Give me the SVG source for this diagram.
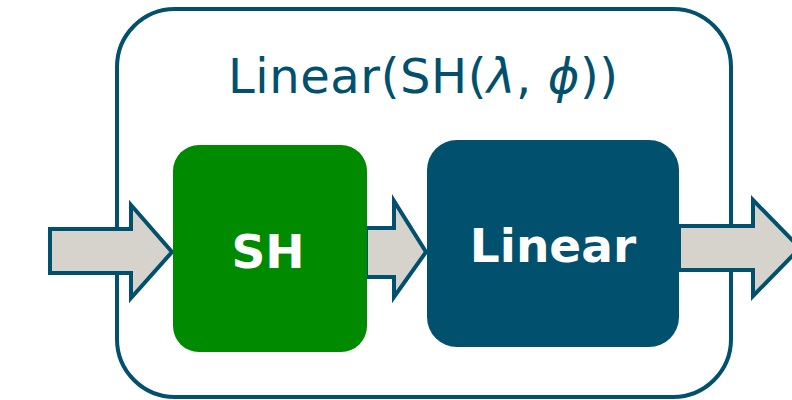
<svg xmlns="http://www.w3.org/2000/svg" width="792" height="400" viewBox="0 0 792 400">
<style>
.arrow{fill:#d6d3cc;stroke:#00506e;stroke-width:4;stroke-linejoin:miter}
.title{font-family:"DejaVu Sans",Verdana,sans-serif;font-size:48px;fill:#00506e}
.lbl{font-family:"DejaVu Sans",Verdana,sans-serif;font-weight:bold;font-size:47px;fill:#ffffff}
</style>
<rect x="0" y="0" width="792" height="400" fill="#ffffff"/>
<g id="outer">
<rect x="117" y="9" width="614" height="388" rx="58" ry="58" fill="none" stroke="#00506e" stroke-width="4"/>
<text class="title" x="423" y="93" text-anchor="middle" textLength="390" lengthAdjust="spacing">Linear(SH(<tspan font-style="italic">λ</tspan>, <tspan font-style="italic">ϕ</tspan>))</text>
</g>
<g id="connectors">
<polygon class="arrow" points="50,229 131,229 131,205 172,252 131,298 131,273 50,273"/>
<polygon class="arrow" points="366,228 394,228 394,201 426,252 394,297 394,277 366,277"/>
<polygon class="arrow" points="679,226 753,226 753,200 800,248 753,296 753,270 679,270"/>
</g>
<g id="sh">
<rect x="173" y="145" width="194" height="207" rx="26" ry="26" fill="#008a00"/>
<text class="lbl" x="268" y="268" text-anchor="middle">SH</text>
</g>
<g id="linear">
<rect x="427" y="140" width="252" height="207" rx="30" ry="30" fill="#00506e"/>
<text class="lbl" x="553" y="262" text-anchor="middle">Linear</text>
</g>
</svg>
